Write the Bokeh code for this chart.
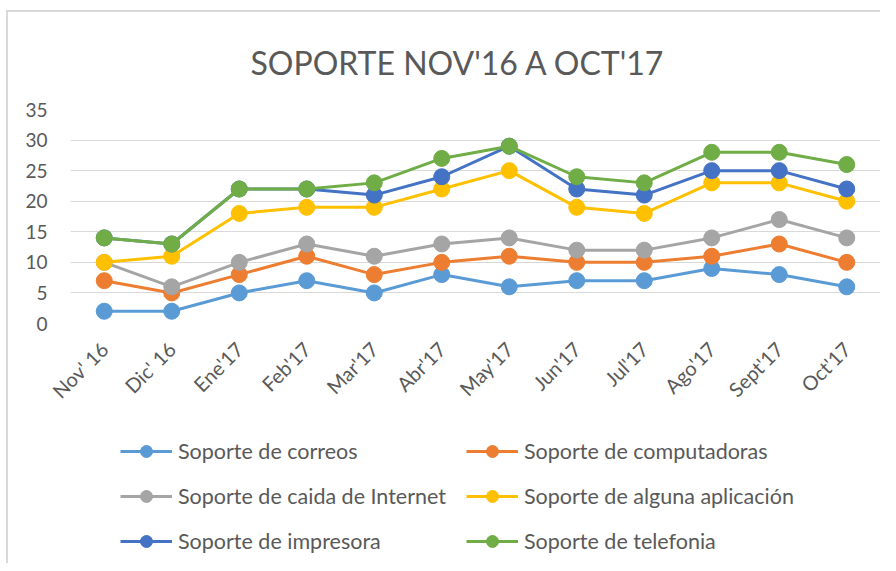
import math
from bokeh.plotting import figure
from bokeh.layouts import column
from bokeh.models import Range1d, FixedTicker, Legend, LegendItem
from bokeh.embed import file_html
from bokeh.resources import INLINE

months = ["Nov' 16", "Dic' 16", "Ene'17", "Feb'17", "Mar'17", "Abr'17",
          "May'17", "Jun'17", "Jul'17", "Ago'17", "Sept'17", "Oct'17"]

correos      = [2, 2, 5, 7, 5, 8, 6, 7, 7, 9, 8, 6]
computadoras = [7, 5, 8, 11, 8, 10, 11, 10, 10, 11, 13, 10]
caida        = [10, 6, 10, 13, 11, 13, 14, 12, 12, 14, 17, 14]
aplicacion   = [10, 11, 18, 19, 19, 22, 25, 19, 18, 23, 23, 20]
impresora    = [14, 13, 22, 22, 21, 24, 29, 22, 21, 25, 25, 22]
telefonia    = [14, 13, 22, 22, 23, 27, 29, 24, 23, 28, 28, 26]

series_names = ["Soporte de correos", "Soporte de computadoras",
                "Soporte de caida de Internet", "Soporte de alguna aplicación",
                "Soporte de impresora", "Soporte de telefonia"]
series_values = [correos, computadoras, caida, aplicacion, impresora, telefonia]
series_colors = ["#5B9BD5", "#ED7D31", "#A5A5A5", "#FFC000", "#4472C4", "#70AD47"]

y_ticks = [0, 5, 10, 15, 20, 25, 30, 35]

FONT = "Lato"
TXT = "#595959"

p = figure(x_range=months, y_range=Range1d(0, 35), width=872, height=416,
           output_backend="svg", toolbar_location=None,
           min_border_left=62, min_border_right=0,
           min_border_top=96, min_border_bottom=105)

p.title.text = "SOPORTE NOV'16 A OCT'17"
p.title.align = "left"
p.title.text_font = FONT
p.title.text_font_size = "32px"
p.title.text_font_style = "normal"
p.title.text_color = TXT
p.title.offset = 180
p.title.standoff = 56

p.outline_line_color = None
p.xgrid.grid_line_color = None
p.ygrid.grid_line_color = "#D9D9D9"
p.ygrid.grid_line_width = 1.2

p.yaxis.ticker = FixedTicker(ticks=y_ticks)
p.yaxis.axis_line_color = None
p.yaxis.major_tick_line_color = None
p.yaxis.minor_tick_line_color = None
p.yaxis.major_tick_out = 0
p.yaxis.major_tick_in = 0
p.yaxis.major_label_standoff = 23
p.yaxis.major_label_text_font = FONT
p.yaxis.major_label_text_font_size = "19px"
p.yaxis.major_label_text_color = TXT

p.xaxis.axis_line_color = None
p.xaxis.major_tick_line_color = None
p.xaxis.major_tick_out = 0
p.xaxis.major_tick_in = 0
p.xaxis.major_label_orientation = math.pi / 4
p.xaxis.major_label_standoff = 22
p.xaxis.major_label_text_font = FONT
p.xaxis.major_label_text_font_size = "20px"
p.xaxis.major_label_text_color = TXT

for name, vals, col in zip(series_names, series_values, series_colors):
    p.line(months, vals, line_color=col, line_width=3)
    p.scatter(months, vals, size=16, fill_color=col, line_color=col)

# legend panel: same series drawn outside its visible y-range, only the legend shows
lg = figure(width=872, height=135, output_backend="svg", toolbar_location=None,
            x_range=months, y_range=Range1d(1000, 1001),
            x_axis_type=None, y_axis_type=None,
            min_border=0, outline_line_color=None)
lg.grid.visible = False
items = []
for name, vals, col in zip(series_names, series_values, series_colors):
    l = lg.line(months, vals, line_color=col, line_width=3)
    s = lg.scatter(months, vals, size=12, fill_color=col, line_color=col)
    items.append(LegendItem(label=name, renderers=[l, s]))

legend = Legend(items=items, orientation="horizontal", ncols=2,
                location=(50, 0), padding=0, margin=0, spacing=0,
                glyph_width=52, glyph_height=30, label_standoff=6,
                label_width=288, label_height=45,
                label_text_font=FONT, label_text_font_size="21.5px",
                label_text_color=TXT,
                background_fill_alpha=0, border_line_color=None)
lg.add_layout(legend, "center")

layout = column(p, lg, spacing=0,
                styles={"margin-left": "6px", "margin-top": "10px",
                        "border-left": "2px solid #D9D9D9",
                        "border-top": "2px solid #D9D9D9"})
open("out.html", "w").write(file_html(layout, INLINE))
